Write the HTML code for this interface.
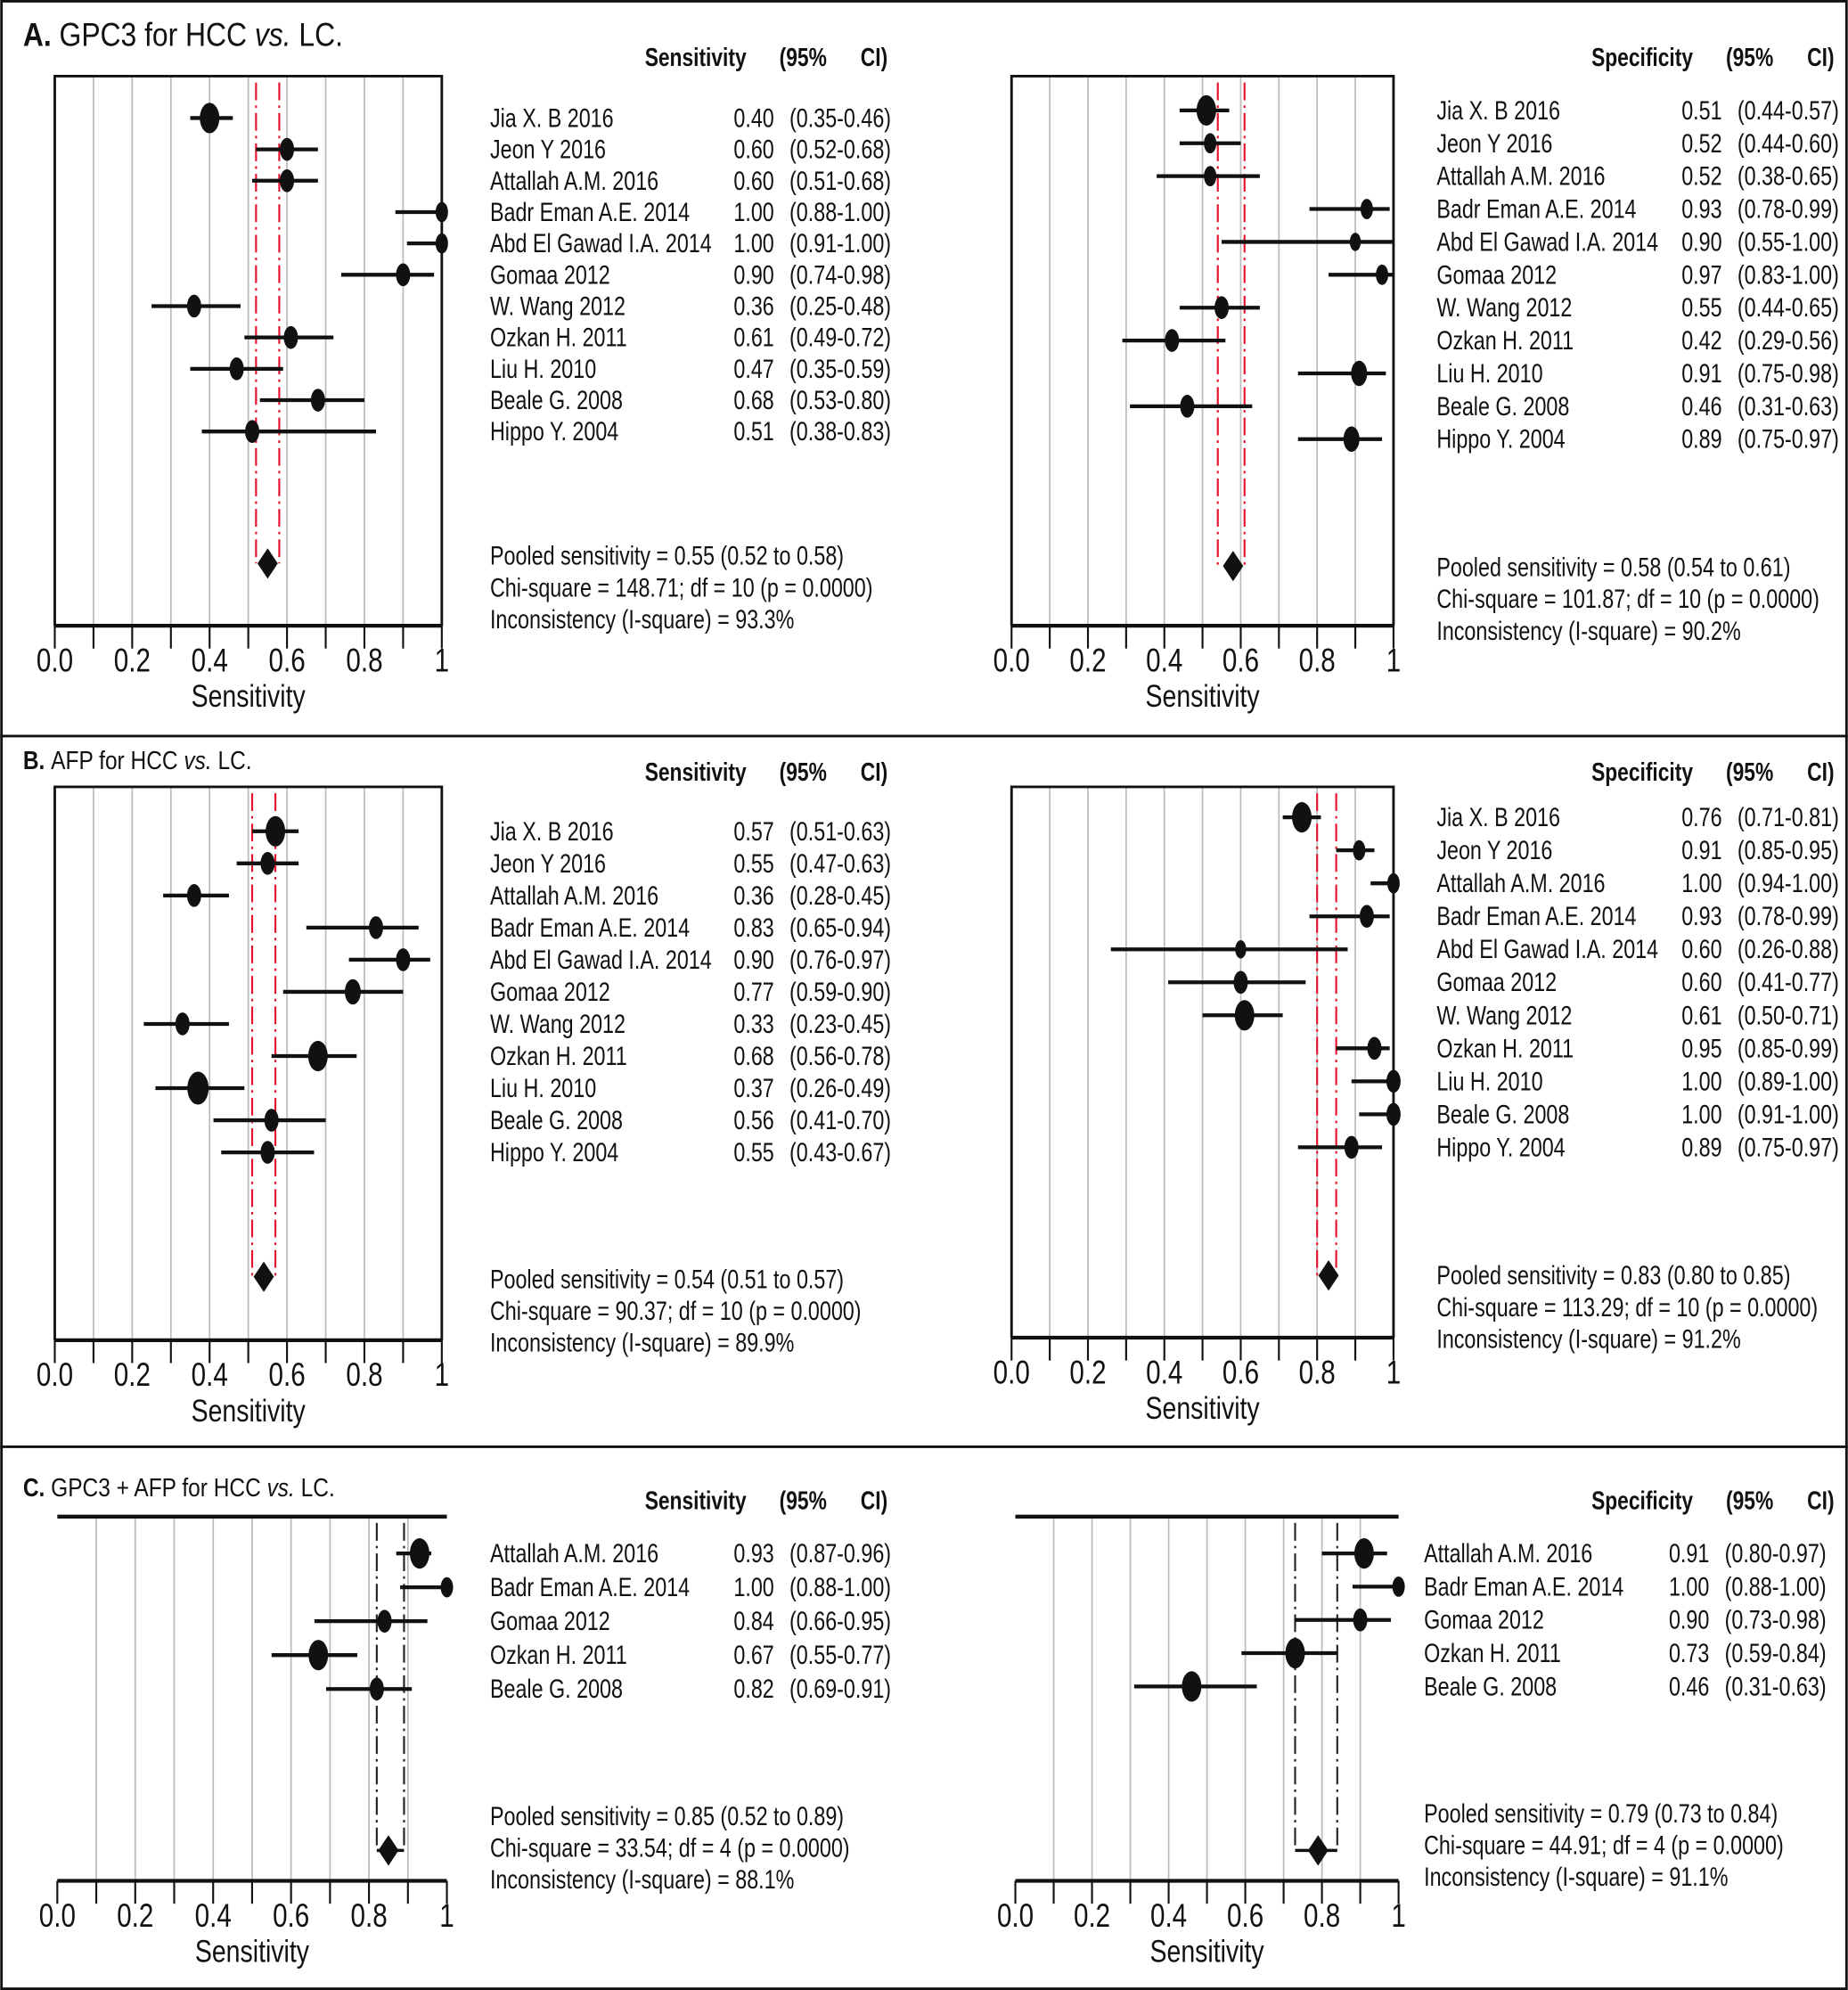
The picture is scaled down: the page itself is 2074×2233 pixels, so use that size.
<!DOCTYPE html>
<html><head><meta charset="utf-8"><style>
html,body{margin:0;padding:0;background:#fff}
svg{display:block}
text{font-family:"Liberation Sans",sans-serif;fill:#111}
</style></head><body>
<svg id="fig" width="2074" height="2233" viewBox="0 0 1456 1568" xmlns="http://www.w3.org/2000/svg">
<rect x="1" y="1" width="1454" height="1566" fill="#fff" stroke="#111" stroke-width="2"/>
<line x1="0" y1="580" x2="1456" y2="580" stroke="#111" stroke-width="2"/>
<line x1="0" y1="1140" x2="1456" y2="1140" stroke="#111" stroke-width="2"/>
</svg>
<script>
// ---- data ----
const namesFull = ["Jia X. B 2016","Jeon Y 2016","Attallah A.M. 2016","Badr Eman A.E. 2014","Abd El Gawad I.A. 2014","Gomaa 2012","W. Wang 2012","Ozkan H. 2011","Liu H. 2010","Beale G. 2008","Hippo Y. 2004"];
const namesC = ["Attallah A.M. 2016","Badr Eman A.E. 2014","Gomaa 2012","Ozkan H. 2011","Beale G. 2008"];
const tickLabels = ["0.0","0.2","0.4","0.6","0.8","1"];

const aSensVal = [0.40,0.60,0.60,1.00,1.00,0.90,0.36,0.61,0.47,0.68,0.51];
const aSensLo  = [0.35,0.52,0.51,0.88,0.91,0.74,0.25,0.49,0.35,0.53,0.38];
const aSensHi  = [0.46,0.68,0.68,1.00,1.00,0.98,0.48,0.72,0.59,0.80,0.83];
const aSensW   = [3,1.5,1.5,1,1,1.5,1.5,1.5,1.5,1.5,1.5];
const aSensPool = [0.55,0.52,0.58];

const aSpecVal = [0.51,0.52,0.52,0.93,0.90,0.97,0.55,0.42,0.91,0.46,0.89];
const aSpecLo  = [0.44,0.44,0.38,0.78,0.55,0.83,0.44,0.29,0.75,0.31,0.75];
const aSpecHi  = [0.57,0.60,0.65,0.99,1.00,1.00,0.65,0.56,0.98,0.63,0.97];
const aSpecW   = [3,1,1,1,0.6,1,1.5,1.5,2,1.5,2];
const aSpecPool = [0.58,0.54,0.61];

const bSensVal = [0.57,0.55,0.36,0.83,0.90,0.77,0.33,0.68,0.37,0.56,0.55];
const bSensLo  = [0.51,0.47,0.28,0.65,0.76,0.59,0.23,0.56,0.26,0.41,0.43];
const bSensHi  = [0.63,0.63,0.45,0.94,0.97,0.90,0.45,0.78,0.49,0.70,0.67];
const bSensW   = [3,1.5,1.5,1.5,1.5,2,1.5,3,3.5,1.5,1.5];
const bSensPool = [0.54,0.51,0.57];

const bSpecVal = [0.76,0.91,1.00,0.93,0.60,0.60,0.61,0.95,1.00,1.00,0.89];
const bSpecLo  = [0.71,0.85,0.94,0.78,0.26,0.41,0.50,0.85,0.89,0.91,0.75];
const bSpecHi  = [0.81,0.95,1.00,0.99,0.88,0.77,0.71,0.99,1.00,1.00,0.97];
const bSpecW   = [3,1,1,1.5,0.6,1.5,3,1.5,1.5,1.5,1.5];
const bSpecPool = [0.83,0.80,0.85];

const cSensVal = [0.93,1.00,0.84,0.67,0.82];
const cSensLo  = [0.87,0.88,0.66,0.55,0.69];
const cSensHi  = [0.96,1.00,0.95,0.77,0.91];
const cSensW   = [3,1,1.5,3,1.5];
const cSensPool = [0.85,0.82,0.89];

const cSpecVal = [0.91,1.00,0.90,0.73,0.46];
const cSpecLo  = [0.80,0.88,0.73,0.59,0.31];
const cSpecHi  = [0.97,1.00,0.98,0.84,0.63];
const cSpecW   = [3,1,1.5,3,3];
const cSpecPool = [0.79,0.73,0.84];

const statsText = {
  aSens:["Pooled sensitivity = 0.55 (0.52 to 0.58)","Chi-square = 148.71; df = 10 (p = 0.0000)","Inconsistency (I-square) = 93.3%"],
  aSpec:["Pooled sensitivity = 0.58 (0.54 to 0.61)","Chi-square = 101.87; df = 10 (p = 0.0000)","Inconsistency (I-square) = 90.2%"],
  bSens:["Pooled sensitivity = 0.54 (0.51 to 0.57)","Chi-square = 90.37; df = 10 (p = 0.0000)","Inconsistency (I-square) = 89.9%"],
  bSpec:["Pooled sensitivity = 0.83 (0.80 to 0.85)","Chi-square = 113.29; df = 10 (p = 0.0000)","Inconsistency (I-square) = 91.2%"],
  cSens:["Pooled sensitivity = 0.85 (0.52 to 0.89)","Chi-square = 33.54; df = 4 (p = 0.0000)","Inconsistency (I-square) = 88.1%"],
  cSpec:["Pooled sensitivity = 0.79 (0.73 to 0.84)","Chi-square = 44.91; df = 4 (p = 0.0000)","Inconsistency (I-square) = 91.1%"]
};

// ---- drawing ----
const NS="http://www.w3.org/2000/svg";
const svg=document.getElementById('fig');
function el(tag,attrs,parent){const e=document.createElementNS(NS,tag);for(const k in attrs)e.setAttribute(k,attrs[k]);(parent||svg).appendChild(e);return e;}
function txt(x,y,s,size,parent,opts){opts=opts||{};
  const t=el('text',{transform:`translate(${x},${y}) scale(${opts.sx||0.78},1)`,'font-size':size,'text-anchor':opts.anchor||'start','font-weight':opts.bold?'bold':'normal'},parent);
  t.textContent=s;return t;}
function f2(v){return v.toFixed(2);}

function drawPanel(cfg){
  const g=el('g',{});
  
  
  const X=v=>cfg.x0+v*(cfg.x1-cfg.x0);
  for(let i=1;i<10;i++){const gl=el('line',{x1:X(i/10),x2:X(i/10),y1:cfg.top,y2:cfg.axisY,stroke:'#bbb','stroke-width':1.2},g);
    }
  const fr=el('path',{d:cfg.frame?`M${cfg.x0},${cfg.axisY}V${cfg.top}H${cfg.x1}V${cfg.axisY}`:`M${cfg.x0},${cfg.top}H${cfg.x1}`,fill:'none',stroke:'#111','stroke-width':cfg.frame?2:3},g);
  
  const ax=el('line',{x1:cfg.x0,x2:cfg.x1,y1:cfg.axisY,y2:cfg.axisY,stroke:'#111','stroke-width':3},g);
  
  for(let i=0;i<=10;i++){el('line',{x1:X(i/10),x2:X(i/10),y1:cfg.axisY,y2:cfg.axisY+18,stroke:'#111','stroke-width':1.5},g);}
  tickLabels.forEach((l,i)=>{const t=txt(X(i*0.2),cfg.axisY+36,l,26,g,{anchor:'middle',sx:0.8});
    });
  const xt=txt((cfg.x0+cfg.x1)/2,cfg.axisY+64,'Sensitivity',25,g,{anchor:'middle',sx:0.8});
  
  const pool=cfg.pool;
  [pool[1],pool[2]].forEach(v=>{const pl=el('line',{x1:X(v),x2:X(v),y1:cfg.top+5,y2:cfg.diaY,stroke:cfg.poolColor,'stroke-width':1.5,'stroke-dasharray':'14,4,2,4'},g);
    });
  if(cfg.poolBar){el('line',{x1:X(pool[1]),x2:X(pool[2]),y1:cfg.diaY,y2:cfg.diaY,stroke:'#111','stroke-width':2.5},g);}
  const d=el('polygon',{points:`${X(pool[0])},${cfg.diaY-12} ${X(pool[0])+8},${cfg.diaY} ${X(pool[0])},${cfg.diaY+12} ${X(pool[0])-8},${cfg.diaY}`,fill:'#111'},g);
  
  txt(cfg.hx,cfg.hy,cfg.measure,20,g,{bold:true,sx:0.8});
  txt(cfg.hx+106,cfg.hy,'(95%',20,g,{bold:true,sx:0.8});
  txt(cfg.hx+170,cfg.hy,'CI)',20,g,{bold:true,sx:0.8});
  cfg.names.forEach((n,i)=>{
    const y=cfg.rowY0+i*cfg.rowStep;
    const ci=el('line',{x1:X(cfg.lo[i]),x2:X(cfg.hi[i]),y1:y,y2:y,stroke:'#111','stroke-width':3},g);
    
    const s=cfg.w[i];
    const m=el('ellipse',{cx:X(cfg.val[i]),cy:y,rx:3.5+1.4*s,ry:6+2*s,fill:'#111'},g);
    
    const ty=y+7;
    const nt=txt(cfg.nx,ty,n,21,g);
    txt(cfg.vx,ty,f2(cfg.val[i]),21,g);
    txt(cfg.vx+44,ty,`(${f2(cfg.lo[i])}-${f2(cfg.hi[i])})`,21,g);
  });
  cfg.stats.forEach((s,k)=>{const t=txt(cfg.nx,cfg.statY+25*k,s,21,g);
    });
}

const RED='#e8112d', BLK='#222';
drawPanel({name:'panel-a-sensitivity',x0:43,x1:348,top:60,axisY:493,frame:true,names:namesFull,val:aSensVal,lo:aSensLo,hi:aSensHi,w:aSensW,pool:aSensPool,poolColor:RED,diaY:444,rowY0:93,rowStep:24.7,nx:386,vx:578,hx:508,hy:52,measure:'Sensitivity',statY:445,stats:statsText.aSens});
drawPanel({name:'panel-a-specificity',x0:797,x1:1098,top:60,axisY:493,frame:true,names:namesFull,val:aSpecVal,lo:aSpecLo,hi:aSpecHi,w:aSpecW,pool:aSpecPool,poolColor:RED,diaY:446,rowY0:87,rowStep:25.9,nx:1132,vx:1325,hx:1254,hy:52,measure:'Specificity',statY:454,stats:statsText.aSpec});
drawPanel({name:'panel-b-sensitivity',x0:43,x1:348,top:620,axisY:1056,frame:true,names:namesFull,val:bSensVal,lo:bSensLo,hi:bSensHi,w:bSensW,pool:bSensPool,poolColor:RED,diaY:1006,rowY0:655,rowStep:25.3,nx:386,vx:578,hx:508,hy:615,measure:'Sensitivity',statY:1015,stats:statsText.bSens});
drawPanel({name:'panel-b-specificity',x0:797,x1:1098,top:620,axisY:1054,frame:true,names:namesFull,val:bSpecVal,lo:bSpecLo,hi:bSpecHi,w:bSpecW,pool:bSpecPool,poolColor:RED,diaY:1005,rowY0:644,rowStep:26,nx:1132,vx:1325,hx:1254,hy:615,measure:'Specificity',statY:1012,stats:statsText.bSpec});
drawPanel({name:'panel-c-sensitivity',x0:45,x1:352,top:1195,axisY:1482,frame:false,poolBar:true,names:namesC,val:cSensVal,lo:cSensLo,hi:cSensHi,w:cSensW,pool:cSensPool,poolColor:BLK,diaY:1458,rowY0:1224,rowStep:26.7,nx:386,vx:578,hx:508,hy:1189,measure:'Sensitivity',statY:1438,stats:statsText.cSens});
drawPanel({name:'panel-c-specificity',x0:800,x1:1102,top:1195,axisY:1482,frame:false,poolBar:true,names:namesC,val:cSpecVal,lo:cSpecLo,hi:cSpecHi,w:cSpecW,pool:cSpecPool,poolColor:BLK,diaY:1458,rowY0:1224,rowStep:26.2,nx:1122,vx:1315,hx:1254,hy:1189,measure:'Specificity',statY:1436,stats:statsText.cSpec});

function title(y,letter,rest,size,name){
  const t=el('text',{transform:`translate(18,${y}) scale(0.86,1)`,'font-size':size});
  
  
  const b=el('tspan',{'font-weight':'bold'},t);b.textContent=letter+' ';
  const a=el('tspan',{},t);a.textContent=rest[0];
  const i=el('tspan',{'font-style':'italic'},t);i.textContent='vs.';
  const c=el('tspan',{},t);c.textContent=rest[1];
}
title(36,'A.',['GPC3 for HCC ',' LC.'],26,'panel-a-title');
title(606,'B.',['AFP for HCC ',' LC.'],20,'panel-b-title');
title(1179,'C.',['GPC3 + AFP for HCC ',' LC.'],20,'panel-c-title');
</script>
</body></html>
